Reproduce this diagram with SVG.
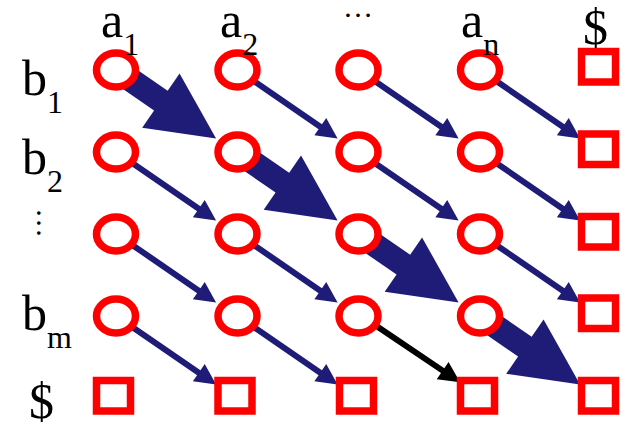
<svg xmlns="http://www.w3.org/2000/svg" xmlns:xlink="http://www.w3.org/1999/xlink" width="630" height="424" viewBox="0 0 630 424">
  <style>
    .cell { fill: #ffffff; stroke: #ff0000; stroke-width: 7.5; }
    .end { fill: #ffffff; stroke: #ff0000; stroke-width: 7.5; stroke-linejoin: miter; }
    .lbl { font-family: "Liberation Serif", "Times New Roman", serif; font-size: 50px; fill: #000000; }
    .sub { font-size: 32px; }
    .dots { font-family: "Liberation Serif", "Times New Roman", serif; font-size: 30px; fill: #000000; }
    .thin { fill: #1f1c78; }
    .bold { fill: #1f1c78; }
    .path { fill: #000000; }
  </style>
  <defs>
    <!-- arrow shapes drawn along +x, tip at x = 99 -->
    <path id="arrowThin" d="M-5,-3 L78,-3 L78,-10.5 L99,0 L78,10.5 L78,3 L-5,3 Z"/>
    <path id="arrowBold" d="M-12,-12 L32,-12 L32,-33 L99,0 L32,33 L32,12 L-12,12 Z"/>
  </defs>

  <!-- connectors -->
  <g id="connectors">
    <use xlink:href="#arrowThin" class="thin" transform="translate(256,82.5) rotate(34.5)"/>
    <use xlink:href="#arrowThin" class="thin" transform="translate(377,82.5) rotate(34.5)"/>
    <use xlink:href="#arrowThin" class="thin" transform="translate(498.5,82.5) rotate(34.5)"/>
    <use xlink:href="#arrowThin" class="thin" transform="translate(134.5,164.5) rotate(34.5)"/>
    <use xlink:href="#arrowThin" class="thin" transform="translate(377,164.5) rotate(34.5)"/>
    <use xlink:href="#arrowThin" class="thin" transform="translate(498.5,164.5) rotate(34.5)"/>
    <use xlink:href="#arrowThin" class="thin" transform="translate(134.5,246.5) rotate(34.5)"/>
    <use xlink:href="#arrowThin" class="thin" transform="translate(256,246.5) rotate(34.5)"/>
    <use xlink:href="#arrowThin" class="thin" transform="translate(498.5,246.5) rotate(34.5)"/>
    <use xlink:href="#arrowThin" class="thin" transform="translate(134.5,328.5) rotate(34.5)"/>
    <use xlink:href="#arrowThin" class="thin" transform="translate(256,328.5) rotate(34.5)"/>
    <use xlink:href="#arrowThin" class="path" transform="translate(378,327) rotate(34)"/>
    <use xlink:href="#arrowBold" class="bold" transform="translate(134.5,82.5) rotate(34.5)"/>
    <use xlink:href="#arrowBold" class="bold" transform="translate(256,164.5) rotate(34.5)"/>
    <use xlink:href="#arrowBold" class="bold" transform="translate(377,246.5) rotate(34.5)"/>
    <use xlink:href="#arrowBold" class="bold" transform="translate(498.5,328.5) rotate(34.5)"/>
  </g>

  <!-- row 1 -->
  <g id="n-1-1"><ellipse class="cell" cx="116" cy="70" rx="19.5" ry="17"/></g>
  <g id="n-1-2"><ellipse class="cell" cx="237.5" cy="70" rx="19.5" ry="17"/></g>
  <g id="n-1-3"><ellipse class="cell" cx="358.5" cy="70" rx="19.5" ry="17"/></g>
  <g id="n-1-4"><ellipse class="cell" cx="480" cy="70" rx="19.5" ry="17"/></g>
  <g id="n-1-5"><rect class="end" x="581.5" y="51.5" width="34" height="30.5"/></g>
  <!-- row 2 -->
  <g id="n-2-1"><ellipse class="cell" cx="116" cy="152" rx="19.5" ry="17"/></g>
  <g id="n-2-2"><ellipse class="cell" cx="237.5" cy="152" rx="19.5" ry="17"/></g>
  <g id="n-2-3"><ellipse class="cell" cx="358.5" cy="152" rx="19.5" ry="17"/></g>
  <g id="n-2-4"><ellipse class="cell" cx="480" cy="152" rx="19.5" ry="17"/></g>
  <g id="n-2-5"><rect class="end" x="581.5" y="134" width="34" height="30.5"/></g>
  <!-- row 3 -->
  <g id="n-3-1"><ellipse class="cell" cx="116" cy="234" rx="19.5" ry="17"/></g>
  <g id="n-3-2"><ellipse class="cell" cx="237.5" cy="234" rx="19.5" ry="17"/></g>
  <g id="n-3-3"><ellipse class="cell" cx="358.5" cy="234" rx="19.5" ry="17"/></g>
  <g id="n-3-4"><ellipse class="cell" cx="480" cy="234" rx="19.5" ry="17"/></g>
  <g id="n-3-5"><rect class="end" x="581.5" y="216.5" width="34" height="30.5"/></g>
  <!-- row 4 -->
  <g id="n-4-1"><ellipse class="cell" cx="116" cy="316" rx="19.5" ry="17"/></g>
  <g id="n-4-2"><ellipse class="cell" cx="237.5" cy="316" rx="19.5" ry="17"/></g>
  <g id="n-4-3"><ellipse class="cell" cx="358.5" cy="316" rx="19.5" ry="17"/></g>
  <g id="n-4-4"><ellipse class="cell" cx="480" cy="316" rx="19.5" ry="17"/></g>
  <g id="n-4-5"><rect class="end" x="581.5" y="298" width="34" height="30.5"/></g>
  <!-- row 5 -->
  <g id="n-5-1"><rect class="end" x="96.5" y="380.5" width="34" height="30.5"/></g>
  <g id="n-5-2"><rect class="end" x="218" y="380.5" width="34" height="30.5"/></g>
  <g id="n-5-3"><rect class="end" x="339.5" y="380.5" width="34" height="30.5"/></g>
  <g id="n-5-4"><rect class="end" x="460.5" y="380.5" width="34" height="30.5"/></g>
  <g id="n-5-5"><rect class="end" x="581.5" y="380.5" width="34" height="30.5"/></g>

  <!-- column headings -->
  <g id="labels">
    <text class="lbl" x="101" y="37">a<tspan class="sub" dy="18">1</tspan></text>
    <text class="lbl" x="220" y="37">a<tspan class="sub" dy="18">2</tspan></text>
    <text class="dots" x="343" y="16.5">…</text>
    <text class="lbl" x="461" y="37">a<tspan class="sub" dy="18">n</tspan></text>
    <text class="lbl" x="583" y="44">$</text>
    <!-- row headings -->
    <text class="lbl" x="22" y="95">b<tspan class="sub" dy="18">1</tspan></text>
    <text class="lbl" x="22" y="174">b<tspan class="sub" dy="18">2</tspan></text>
    <text class="dots" transform="translate(36.8,208) rotate(90)">…</text>
    <text class="lbl" x="22" y="330">b<tspan class="sub" dy="18">m</tspan></text>
    <text class="lbl" x="29" y="418">$</text>
  </g>
</svg>
